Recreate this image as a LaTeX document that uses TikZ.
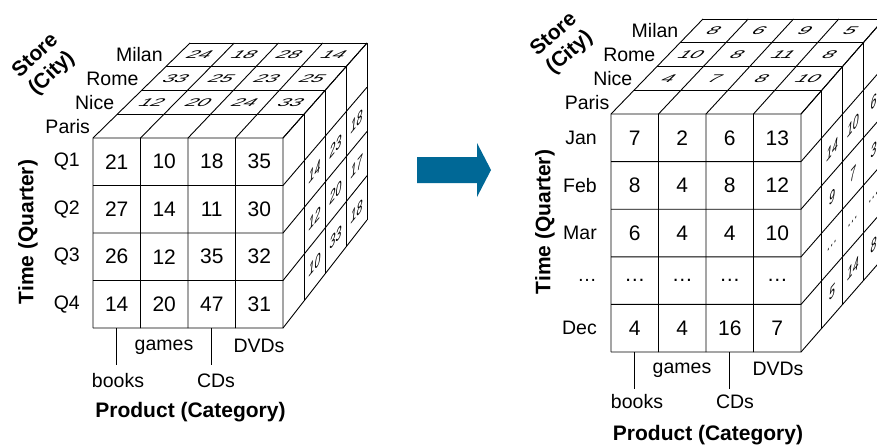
\documentclass[tikz,border=0pt]{standalone}
\usepackage{fontspec}
\setmainfont{Liberation Sans}
\usetikzlibrary{calc}
\definecolor{arrowblue}{RGB}{0,104,150}

% trilinear point inside a cube given by front/back rectangles
\newcommand\mkpt[4]{%
  \pgfmathsetmacro\mka{(#2)/4}%
  \pgfmathsetmacro\mkb{(#3)/\NV}%
  \pgfmathsetmacro\mkc{(#4)/4}%
  \pgfmathsetmacro\mkx{(1-\mkc)*(\FXL+\mka*(\FXR-\FXL))+\mkc*(\BXL+\mka*(\BXR-\BXL))}%
  \pgfmathsetmacro\mky{(1-\mkc)*(\FYT+\mkb*(\FYB-\FYT))+\mkc*(\BYT+\mkb*(\BYB-\BYT))}%
  \coordinate (#1) at (\mkx,\mky);%
}
\newcommand\cubegrid{%
  \foreach \u in {0,...,4}{\foreach \v in {0,...,\NV}{\foreach \w in {0,...,4}{%
    \mkpt{\cubeid-\u-\v-\w}{\u}{\v}{\w}}}}%
  \foreach \v in {0,...,\NV}{\draw[ln] (\cubeid-0-\v-0) -- (\cubeid-4-\v-0) -- (\cubeid-4-\v-4);}%
  \foreach \u in {0,...,4}{\draw[ln] (\cubeid-\u-\NV-0) -- (\cubeid-\u-0-0) -- (\cubeid-\u-0-4);}%
  \foreach \w in {1,...,4}{\draw[ln] (\cubeid-0-0-\w) -- (\cubeid-4-0-\w) -- (\cubeid-4-\NV-\w);}%
}
\newcommand\frontnums[1]{%
  \foreach \row [count=\v from 0] in {#1}{%
    \foreach \n [count=\u from 0] in \row{%
      \mkpt{\cubeid-fc-\u-\v}{\u+0.5}{\v+0.5}{0}%
      \node[fnum] (\cubeid-f-\u-\v) at (\cubeid-fc-\u-\v) {\n};}}}
\newcommand\topnums[1]{%
  \foreach \row [count=\w from 1] in {#1}{%
    \foreach \n [count=\u from 0] in \row{%
      \mkpt{\cubeid-tc-\u-\w}{\u+0.5}{0}{\w+0.5}%
      \node[tnum] (\cubeid-t-\u-\w) at (\cubeid-tc-\u-\w) {\n};}}}
\newcommand\rightnums[1]{%
  \foreach \row [count=\w from 1] in {#1}{%
    \foreach \n [count=\v from 1] in \row{%
      \mkpt{\cubeid-rc-\v-\w}{4}{\v+0.5}{\w+0.5}%
      \node[rnum] (\cubeid-r-\v-\w) at (\cubeid-rc-\v-\w) {\n};}}}
\newcommand\citylabels[1]{%
  \foreach \name [count=\k from 0] in {Paris,Nice,Rome,Milan}{%
    \mkpt{\cubeid-cc-\k}{0}{0}{\k+0.5}%
    \node[lab, anchor=east, xshift=-#1] (\cubeid-city-\k) at (\cubeid-cc-\k) {\name};}}
\newcommand\rowlabels[2]{%
  \foreach \name [count=\v from 0] in {#1}{%
    \mkpt{\cubeid-lc-\v}{0}{\v+0.5}{0}%
    \node[lab, anchor=east, xshift=-#2] (\cubeid-row-\v) at (\cubeid-lc-\v) {\name};}}
\newcommand\ticks{%
  \mkpt{\cubeid-bk}{0.5}{\NV}{0}%
  \mkpt{\cubeid-cd}{2.5}{\NV}{0}%
  \coordinate (\cubeid-bke) at ($(\cubeid-bk)+(0,37)$);%
  \coordinate (\cubeid-cde) at ($(\cubeid-cd)+(0,37)$);%
  \draw[ln] (\cubeid-bk) -- (\cubeid-bke);%
  \draw[ln] (\cubeid-cd) -- (\cubeid-cde);}

\begin{document}
\begin{tikzpicture}[x=1pt,y=-1pt,
  ln/.style={line width=0.9pt, line join=round},
  fnum/.style={font=\fontsize{21}{25}\selectfont, inner sep=0pt},
  tnum/.style={font=\fontsize{21}{25}\selectfont, inner sep=0pt, cm={1,0,0.55,0.53,(0,0)}},
  rnum/.style={font=\itshape\fontsize{17}{20}\selectfont, inner sep=0pt, cm={0.62,0.75,0,1,(0,0)}},
  lab/.style={font=\fontsize{19.5}{23}\selectfont, inner sep=0pt},
  axlab/.style={font=\bfseries\fontsize{21}{24}\selectfont, inner sep=0pt, align=center},
]
\useasboundingbox (0,0) rectangle (877,447);
\clip (0,0) rectangle (877,447);
\fill[white] (0,0) rectangle (877,447);

% ---------------- left cube (quarters)
\def\cubeid{L}\def\NV{4}
\def\FXL{93}\def\FXR{283}\def\FYT{138}\def\FYB{328}
\def\BXL{190}\def\BXR{367}\def\BYT{43}\def\BYB{220}
\cubegrid
\frontnums{{21,10,18,35},{27,14,11,30},{26,12,35,32},{14,20,47,31}}
\topnums{{12,20,24,33},{33,25,23,25},{24,18,28,14}}
\rightnums{{14,12,10},{23,20,33},{18,17,18}}
\citylabels{15pt}
\rowlabels{Q1,Q2,Q3,Q4}{13pt}
\ticks
\node[axlab, rotate=43] (L-store) at (44,65) {Store\\(City)};
\node[axlab, rotate=90] (L-time) at (28,232) {Time (Quarter)};
\node[lab, anchor=base] (L-games) at (164,350) {games};
\node[lab, anchor=base] (L-dvds) at (259,352) {DVDs};
\node[lab, anchor=base] (L-books) at (118,387) {books};
\node[lab, anchor=base] (L-cds) at (216,387) {CDs};
\node[axlab, anchor=base] (L-prod) at (190.5,417) {Product (Category)};

% ---------------- arrow
\fill[arrowblue] (417,157) -- (477,157) -- (477,143) -- (491,170) -- (477,197) -- (477,183) -- (417,183) -- cycle;

% ---------------- right cube (months)
\def\cubeid{R}\def\NV{5}
\def\FXL{611}\def\FXR{801}\def\FYT{114}\def\FYB{352}
\def\BXL{703}\def\BXR{884}\def\BYT{19}\def\BYB{257}
\cubegrid
\frontnums{{7,2,6,13},{8,4,8,12},{6,4,4,10},{…,…,…,…},{4,4,16,7}}
\topnums{{4,7,8,10},{10,8,11,8},{8,6,9,5}}
\rightnums{{14,9,…,5},{10,7,…,14},{6,3,…,8}}
\citylabels{13pt}
\rowlabels{Jan,Feb,Mar,…,Dec}{14pt}
\ticks
\node[axlab, rotate=41] (R-store) at (562,44) {Store\\(City)};
\node[axlab, rotate=90] (R-time) at (545,222) {Time (Quarter)};
\node[lab, anchor=base] (R-games) at (682,373) {games};
\node[lab, anchor=base] (R-dvds) at (778,375) {DVDs};
\node[lab, anchor=base] (R-books) at (637,408) {books};
\node[lab, anchor=base] (R-cds) at (735,408) {CDs};
\node[axlab, anchor=base] (R-prod) at (708,440) {Product (Category)};
\end{tikzpicture}
\end{document}
